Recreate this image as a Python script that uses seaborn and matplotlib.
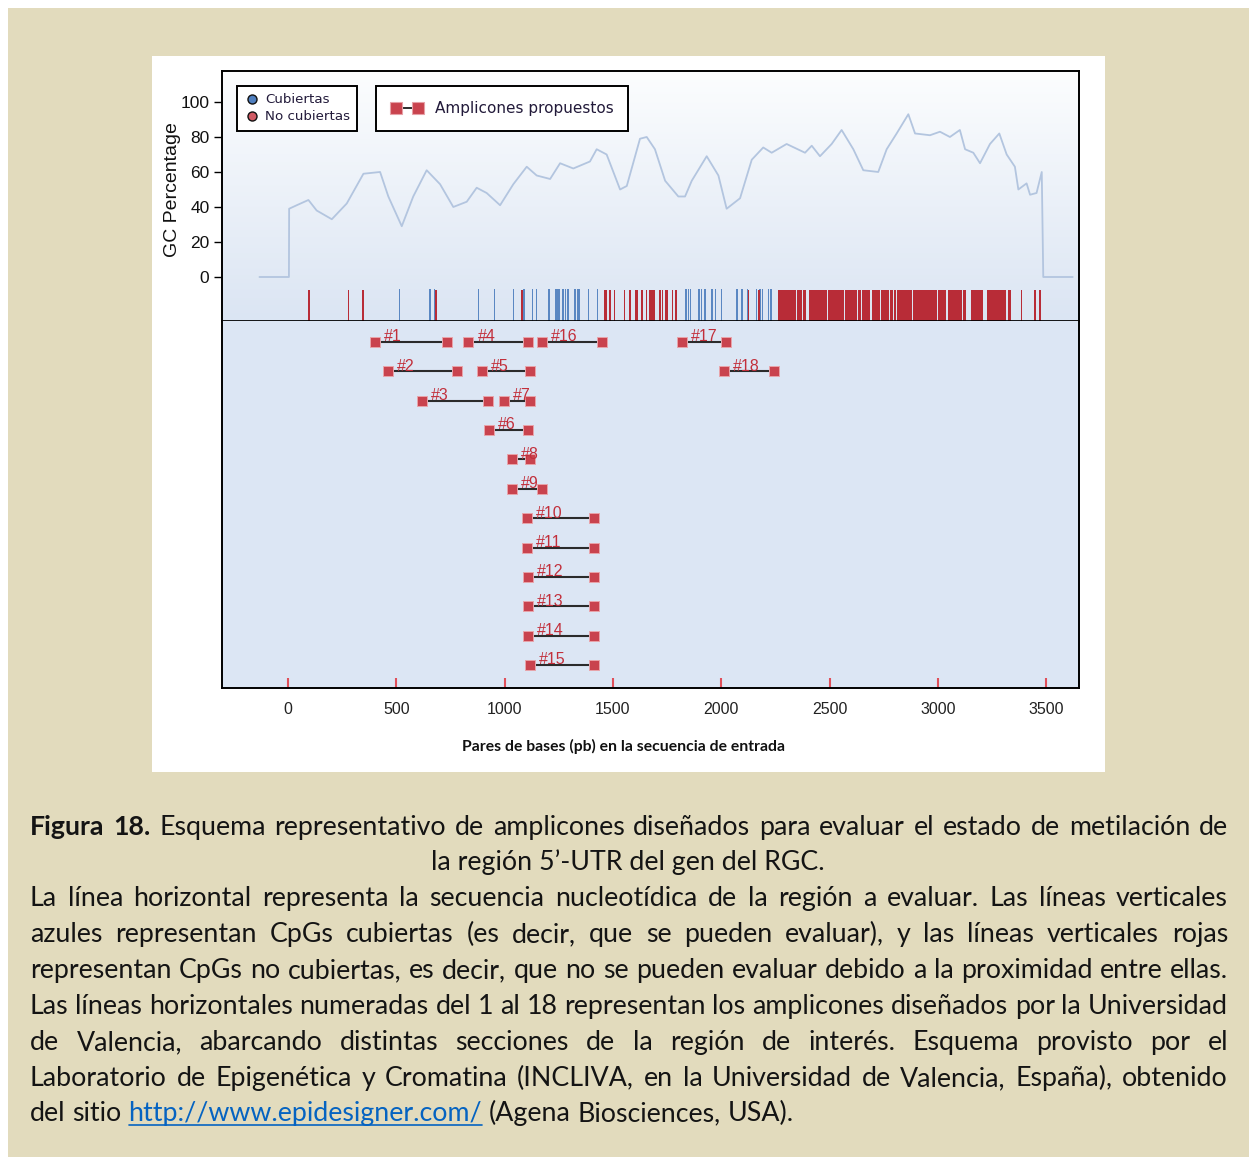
import numpy as np
import matplotlib
matplotlib.use("Agg")
import matplotlib.pyplot as plt
import seaborn as sns
from matplotlib.patches import Rectangle
from matplotlib.lines import Line2D
from matplotlib.colors import LinearSegmentedColormap

# ---------------- data ----------------
gc_pos = [-132, 4, 5, 40, 94, 132, 202, 271, 348, 425, 463, 525, 578, 640, 702, 763, 825, 871,
          917, 979, 1040, 1102, 1148, 1210, 1256, 1317, 1394, 1425, 1471, 1533, 1564, 1625, 1656,
          1694, 1741, 1802, 1833, 1864, 1933, 1987, 2025, 2087, 2141, 2194, 2233, 2302, 2387,
          2418, 2456, 2510, 2556, 2610, 2656, 2725, 2764, 2810, 2864, 2895, 2964, 3010, 3056,
          3102, 3126, 3164, 3195, 3241, 3284, 3318, 3356, 3372, 3410, 3426, 3456, 3480, 3487, 3623]
gc_pct = [0, 0, 39, 41, 44, 38, 33, 42, 59, 60, 46, 29, 46, 61, 53, 40, 43, 51,
          48, 41, 53, 63, 58, 56, 65, 62, 66, 73, 70, 50, 52, 79, 80,
          73, 55, 46, 46, 55, 69, 58, 39, 45, 67, 74, 71, 76, 71,
          75, 69, 76, 84, 73, 61, 60, 73, 82, 93, 82, 81, 83, 80,
          84, 73, 71, 65, 76, 82, 70, 63, 50, 53.5, 47, 48, 60, 0, 0]

covered_cpg = [514, 656, 676, 880, 953, 1042, 1090, 1130, 1147, 1205, 1208, 1237, 1243, 1249,
               1252, 1270, 1280, 1293, 1325, 1339, 1345, 1387, 1428, 1837, 1850, 1857, 1897,
               1909, 1925, 1957, 1973, 2000, 2073, 2096, 2122, 2162, 2179, 2192, 2218, 2230]

uncovered_start = [97, 279, 346, 683, 1077, 1080, 1460, 1467, 1487, 1507, 1553, 1580, 1607, 1614,
                   1631, 1636, 1656, 1668, 1674, 1680, 1686, 1691, 1717, 1730, 1745, 1753, 1776,
                   1791, 2127, 2175, 2268, 2291, 2318, 2353, 2379, 2410, 2495, 2549, 2576, 2591,
                   2633, 2653, 2665, 2679, 2702, 2718, 2741, 2761, 2782, 2799, 2813, 2887, 2949,
                   3006, 3025, 3049, 3118, 3156, 3176, 3233, 3326, 3387, 3449, 3469, 3475]
uncovered_end = [97, 279, 346, 683, 1077, 1080, 1460, 1467, 1487, 1507, 1553, 1580, 1607, 1614,
                 1631, 1636, 1656, 1668, 1674, 1680, 1686, 1691, 1717, 1730, 1745, 1753, 1776,
                 1791, 2127, 2175, 2287, 2310, 2344, 2368, 2387, 2487, 2541, 2564, 2587, 2625,
                 2641, 2659, 2672, 2684, 2710, 2730, 2752, 2771, 2791, 2804, 2879, 2941, 2992,
                 3018, 3033, 3110, 3129, 3167, 3207, 3310, 3333, 3387, 3449, 3469, 3475]

amp_names = ['#1', '#2', '#3', '#4', '#5', '#6', '#7', '#8', '#9', '#10', '#11', '#12',
             '#13', '#14', '#15', '#16', '#17', '#18']
amp_start = [402, 463, 620, 833, 894, 929, 997, 1033, 1033, 1102, 1105, 1109, 1109, 1109,
             1117, 1171, 1818, 2013]
amp_end = [733, 779, 925, 1109, 1117, 1109, 1117, 1117, 1171, 1414, 1414, 1414, 1414, 1414,
           1414, 1448, 2021, 2245]
amp_lane = [1, 2, 3, 1, 2, 4, 3, 5, 6, 7, 8, 9, 10, 11, 12, 1, 1, 2]

x_ticks = [0, 500, 1000, 1500, 2000, 2500, 3000, 3500]
y_ticks = [0, 20, 40, 60, 80, 100]

legend_cpg = ['Cubiertas', 'No cubiertas']
legend_amp = 'Amplicones propuestos'
y_label = 'GC Percentage'
x_label = 'Pares de bases (pb) en la secuencia de entrada'

caption_l1 = [("Figura", True), ("18.", True)] + [(w, False) for w in
              "Esquema representativo de amplicones diseñados para evaluar el estado de metilación de".split()]
caption_l2 = "la región 5’-UTR del gen del RGC."
caption_body = [
    "La línea horizontal representa la secuencia nucleotídica de la región a evaluar. Las líneas verticales",
    "azules representan CpGs cubiertas (es decir, que se pueden evaluar), y las líneas verticales rojas",
    "representan CpGs no cubiertas, es decir, que no se pueden evaluar debido a la proximidad entre ellas.",
    "Las líneas horizontales numeradas del 1 al 18 representan los amplicones diseñados por la Universidad",
    "de Valencia, abarcando distintas secciones de la región de interés. Esquema provisto por el",
    "Laboratorio de Epigenética y Cromatina (INCLIVA, en la Universidad de Valencia, España), obtenido",
]
caption_last = ["del", "sitio", ("http://www.epidesigner.com/", "link"), "(Agena", "Biosciences,", "USA)."]

# ---------------- style ----------------
sns.set_theme(style="white")
plt.rcParams['font.family'] = ['DejaVu Sans']
NARROW = ['Liberation Sans Narrow', 'Liberation Sans', 'DejaVu Sans']
ARIAL = ['Liberation Sans', 'DejaVu Sans']
CAPF = ['Lato', 'Open Sans', 'DejaVu Sans']

W, H = 1249, 1159
fig = plt.figure(figsize=(W / 100, H / 100), dpi=100, facecolor='white')


def fx(p):
    return p / W


def fy(p):
    return 1 - p / H


fig.add_artist(Rectangle((fx(8), fy(1157)), fx(1249) - fx(8), fy(8) - fy(1157),
                         transform=fig.transFigure, facecolor='#e2dbbd', edgecolor='none', zorder=-10))
fig.add_artist(Rectangle((fx(152), fy(772)), fx(1105) - fx(152), fy(56) - fy(772),
                         transform=fig.transFigure, facecolor='white', edgecolor='none', zorder=-9))

ax_top = fig.add_axes([fx(222), fy(321), fx(1079) - fx(222), fy(71) - fy(321)])
ax_bot = fig.add_axes([fx(222), fy(688), fx(1079) - fx(222), fy(321) - fy(688)], sharex=ax_top)

XMIN, XMAX = -305, 3652
Y_TOP_MIN, Y_TOP_MAX = -25.14, 117.7
TICK_BOTTOM, TICK_TOP = -25.3, -7.7

# gradient background for top panel
cmap = LinearSegmentedColormap.from_list('bg', ['#fcfdfe', '#dbe5f3'])
ax_top.imshow(np.linspace(0, 1, 256).reshape(-1, 1), extent=[0, 1, 0, 1], transform=ax_top.transAxes,
              aspect='auto', cmap=cmap, origin='upper', zorder=0, interpolation='bilinear')

sns.lineplot(x=gc_pos, y=gc_pct, ax=ax_top, color='#b3c5df', linewidth=1.3, sort=False,
             estimator=None, zorder=2)

# CpG ticks
ax_top.bar(covered_cpg, TICK_TOP - TICK_BOTTOM + 0.6, width=6, bottom=TICK_BOTTOM, color='#5a87c2',
           edgecolor='none', zorder=3)
u_s = np.array(uncovered_start, dtype=float)
u_e = np.array(uncovered_end, dtype=float)
ax_top.bar(u_s - 3.5, TICK_TOP - TICK_BOTTOM, width=(u_e - u_s) + 7, bottom=TICK_BOTTOM, align='edge',
           color='#b82c37', edgecolor='none', zorder=3)

ax_top.set_xlim(XMIN, XMAX)
ax_top.set_ylim(Y_TOP_MIN, Y_TOP_MAX)
ax_top.set_yticks(y_ticks)
ax_top.set_yticklabels([str(v) for v in y_ticks], family=ARIAL, fontsize=12.5, color='#111')
ax_top.tick_params(axis='y', direction='out', length=6, width=1, color='black', pad=3, left=True)
ax_top.tick_params(axis='x', bottom=False, labelbottom=False)
ax_top.set_ylabel(y_label, family=ARIAL, fontsize=14, color='#111')
ax_top.yaxis.set_label_coords(-0.048, 0.525)
for s in ['top', 'left', 'right']:
    ax_top.spines[s].set_color('black')
    ax_top.spines[s].set_linewidth(1.4)
ax_top.spines['bottom'].set_color('black')
ax_top.spines['bottom'].set_linewidth(2)
ax_top.spines['bottom'].set_zorder(5)
ax_top.spines['bottom'].set_capstyle('butt')

# legends
h_cov = Line2D([], [], ls='none', marker='o', ms=6.5, mfc='#4f7fbf', mec='#111', mew=1.0)
h_unc = Line2D([], [], ls='none', marker='o', ms=6.5, mfc='#d05a64', mec='#111', mew=1.0)
leg1 = ax_top.legend([h_cov, h_unc], legend_cpg, loc='upper left', bbox_to_anchor=(0.0175, 0.94),
                     borderaxespad=0, frameon=True, fancybox=False, edgecolor='black', framealpha=1,
                     prop={'family': 'DejaVu Sans', 'size': 9.6}, handlelength=1.15, handletextpad=0.4,
                     labelspacing=0.3, borderpad=0.55, labelcolor='#221a3a')
leg1.get_frame().set_linewidth(1.4)
leg1.set_zorder(10)
ax_top.add_artist(leg1)
h_amp = Line2D([], [], color='#2b2b2b', lw=1.4, marker='s', ms=8, mfc='#c9434e', mec='#e6a0a6', mew=0.8)
leg2 = ax_top.legend([h_amp], [legend_amp], loc='upper left', bbox_to_anchor=(0.1797, 0.94),
                     borderaxespad=0, frameon=True, fancybox=False, edgecolor='black', framealpha=1,
                     prop={'family': 'DejaVu Sans', 'size': 11}, handlelength=2.1, handletextpad=0.75,
                     borderpad=0.98, numpoints=2, labelcolor='#221a3a')
leg2.get_frame().set_linewidth(1.4)
leg2.set_zorder(10)

# bottom panel: amplicons
ax_bot.set_facecolor('#dce6f4')
for name, s, e, lane in zip(amp_names, amp_start, amp_end, amp_lane):
    ax_bot.plot([s, e], [lane, lane], color='#2b2b2b', lw=1.5, zorder=3, solid_capstyle='butt')
    ax_bot.plot([s, e], [lane, lane], ls='none', marker='s', ms=7.3, mfc='#c9434e', mec='#e8a4aa',
                mew=0.7, zorder=4)
    ax_bot.annotate(name, xy=(s, lane), xytext=(6.5, 0.5), textcoords='offset points', color='#c22f3b',
                    fontsize=11.5, family=ARIAL, va='baseline', ha='left', zorder=5)
ax_bot.set_ylim(12.78, 0.285)
ax_bot.set_yticks([])
ax_bot.set_xlim(XMIN, XMAX)
ax_bot.set_xticks(x_ticks)
ax_bot.set_xticklabels([str(v) for v in x_ticks], family=NARROW, fontsize=11.5, color='#222')
ax_bot.tick_params(axis='x', direction='in', length=7, width=1.5, color='#e0505a', pad=10, bottom=True)
for s in ['left', 'right', 'bottom']:
    ax_bot.spines[s].set_color('black')
    ax_bot.spines[s].set_linewidth(1.4)
ax_bot.spines['top'].set_visible(False)

fig.text(fx(624), fy(746), x_label, ha='center', va='center', fontsize=11.3, fontweight='bold',
         family=CAPF, color='#111')

# ---------------- caption (justified) ----------------
renderer = fig.canvas.get_renderer()


def width_of(txt, weight='normal', size=16):
    t = fig.text(0, 0, txt, fontsize=size, family=CAPF, fontweight=weight)
    w = t.get_window_extent(renderer).width
    t.remove()
    return w


base = 16
space_base = width_of("a a", size=base) - width_of("aa", size=base)
nat = sum(width_of(w, size=base) for w in caption_body[2].split()) + space_base * (len(caption_body[2].split()) - 1)
FS = base * 1196 / nat
SPACE = space_base * FS / base
X0, X1 = 30, 1228
CAPCOL = '#141414'


def place_justified(words, baseline_px):
    ws = [width_of(w, 'bold' if b else 'normal', FS) for w, b in words]
    gap = (X1 - X0 - sum(ws)) / (len(words) - 1)
    x = X0
    for (w, b), wd in zip(words, ws):
        fig.text(fx(x), fy(baseline_px), w, fontsize=FS, family=CAPF, fontweight='bold' if b else 'normal',
                 ha='left', va='baseline', color=CAPCOL)
        x += wd + gap


lines_base = [835, 870, 906, 942, 978, 1014, 1050, 1086, 1121]
place_justified(caption_l1, lines_base[0])
fig.text(fx(628), fy(lines_base[1]), caption_l2, fontsize=FS, family=CAPF, ha='center', va='baseline',
         color=CAPCOL)
for i, ln in enumerate(caption_body):
    place_justified([(w, False) for w in ln.split()], lines_base[2 + i])

x = X0
for item in caption_last:
    if isinstance(item, tuple):
        txt = item[0]
        wd = width_of(txt, size=FS)
        fig.text(fx(x), fy(lines_base[8]), txt, fontsize=FS, family=CAPF, ha='left', va='baseline',
                 color='#0563c1')
        fig.add_artist(Line2D([fx(x), fx(x + wd)], [fy(lines_base[8] + 4), fy(lines_base[8] + 4)],
                              transform=fig.transFigure, color='#0563c1', lw=1.2))
    else:
        txt = item
        wd = width_of(txt, size=FS)
        fig.text(fx(x), fy(lines_base[8]), txt, fontsize=FS, family=CAPF, ha='left', va='baseline',
                 color=CAPCOL)
    x += wd + SPACE

fig.savefig('out.png', dpi=100, facecolor=fig.get_facecolor())
